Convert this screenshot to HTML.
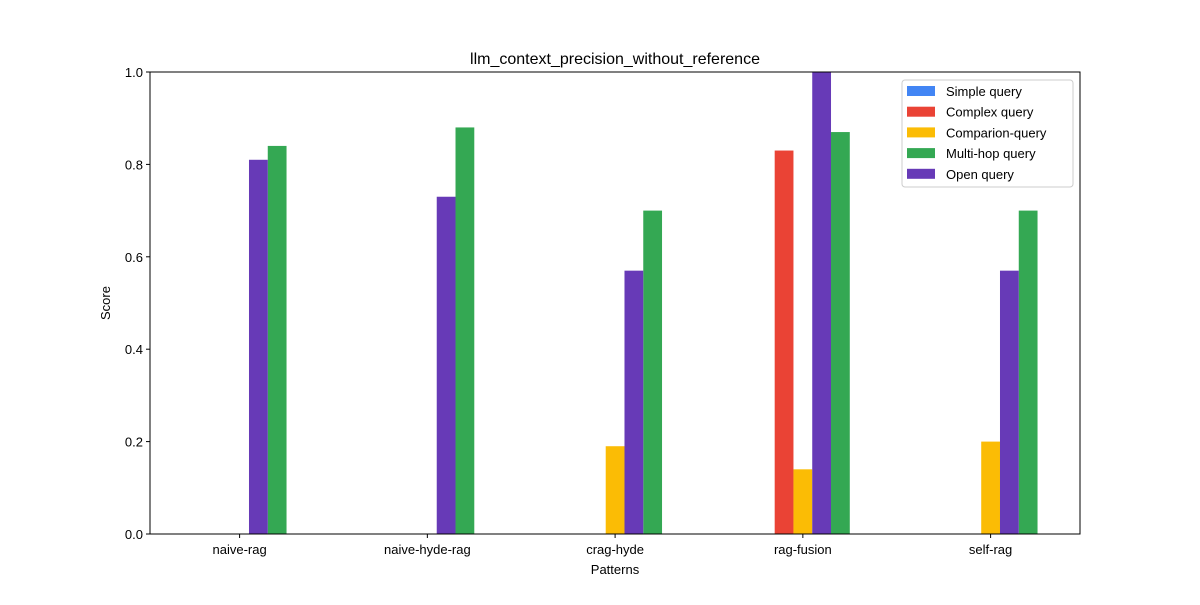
<!DOCTYPE html>
<html><head><meta charset="utf-8"><style>body{margin:0;background:#fff}svg text{font-family:"Liberation Sans","DejaVu Sans",sans-serif}</style></head>
<body>
<svg id="chart" width="1200" height="600" viewBox="0 0 1200 600" xmlns="http://www.w3.org/2000/svg">
<rect width="1200" height="600" fill="#fff"/>
<text x="615" y="64" text-anchor="middle" font-size="16">llm_context_precision_without_reference</text>
<g id="bars"></g>
<rect x="150" y="72" width="930" height="462" fill="none" stroke="#000" stroke-width="1"/>
<g id="axes"></g>
<text x="615" y="574" text-anchor="middle" font-size="13">Patterns</text>
<text transform="translate(110,303) rotate(-90)" text-anchor="middle" font-size="13">Score</text>
<g id="legend"></g>
</svg>
<script>
const categories=["naive-rag","naive-hyde-rag","crag-hyde","rag-fusion","self-rag"];
const seriesNames=["Simple query","Complex query","Comparion-query","Multi-hop query","Open query"];
const simpleVals=[0,0,0,0,0];
const complexVals=[0,0,0,0.83,0];
const comparionVals=[0,0,0.19,0.14,0.20];
const multihopVals=[0.84,0.88,0.70,0.87,0.70];
const openVals=[0.81,0.73,0.57,1.0,0.57];
const yTicks=[0,0.2,0.4,0.6,0.8,1.0];
const NS="http://www.w3.org/2000/svg";
const colors=["#4285F4","#EA4335","#FBBC05","#34A853","#673AB7"];
const offsets=[-0.2,-0.1,0,0.2,0.1];
const allVals=[simpleVals,complexVals,comparionVals,multihopVals,openVals];
const L=150,R=1080,T=72,B=534,step=187.75,x0=239.6;
const xC=i=>x0+step*i;
const y=v=>B-(B-T)*v;
function mk(t,a,p){const e=document.createElementNS(NS,t);for(const k in a)e.setAttribute(k,a[k]);p.appendChild(e);return e;}
const bars=document.getElementById('bars'),axes=document.getElementById('axes'),leg=document.getElementById('legend');
const bw=step*0.1;
allVals.forEach((arr,s)=>arr.forEach((v,i)=>{
 const cx=xC(i)+offsets[s]*step;
 const r=mk('rect',{x:cx-bw/2,y:y(v),width:bw,height:B-y(v),fill:colors[s]},bars);
 
 
}));
categories.forEach((c,i)=>{
 mk('line',{x1:xC(i),x2:xC(i),y1:B,y2:B+4,stroke:'#000'},axes);
 const t=mk('text',{x:xC(i),y:B+20,'text-anchor':'middle','font-size':13},axes);t.textContent=c;
 
 
});
yTicks.forEach(v=>{
 mk('line',{x1:L-4,x2:L,y1:y(v),y2:y(v),stroke:'#000'},axes);
 const t=mk('text',{x:L-7,y:y(v)+5,'text-anchor':'end','font-size':13},axes);t.textContent=v.toFixed(1);
 
 
});
const lb=mk('rect',{x:902,y:80,width:171,height:107,fill:'#fff',stroke:'#ccc',rx:3},leg);


const order=[0,1,2,3,4];
order.forEach((s,k)=>{
 const yy=91+k*20.7;
 mk('rect',{x:907,y:yy-5,width:28,height:10,fill:colors[s]},leg);
 const t=mk('text',{x:946,y:yy+5,'font-size':13},leg);t.textContent=seriesNames[s];
 
 
});
</script>
</body></html>
